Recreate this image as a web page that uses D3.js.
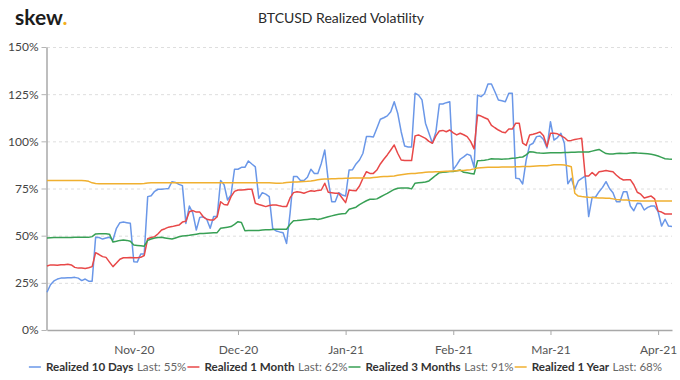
<!DOCTYPE html>
<html><head><meta charset="utf-8">
<script src="https://cdn.jsdelivr.net/npm/d3@7"></script>
<style>
body{margin:0;background:#fff;}
svg{display:block;font-family:Lato,"Open Sans",sans-serif;}
</style></head><body>
<svg id="chart" width="680" height="380"></svg>
<script>
// ---------- data (daily, starting 2020-10-07, values in %) ----------
const startDate = "2020-10-07";
const realized10d = [
20,24,26,27,27.5,27.5,27.7,27.7,27.9,27.5,
26.2,27,25.9,25.9,49.1,49,48.2,48.8,49.1,47.7,
53.9,56.9,57.2,56.9,56.6,36.2,36,40.3,40.3,70.7,
71.2,73.5,74.6,74.6,74.8,75,78.6,78.2,77.2,76.5,
56.5,65.7,62,53,59.7,60,58.7,53.9,60.2,60.1,
79.2,77,68.9,71.6,85.2,85.2,86.2,86.2,89.6,88,
86.5,69.8,72.8,72,70.7,53.9,52.5,52,51.6,45.9,
61.8,81.3,81.3,79.2,79.2,81,85.2,83,83,88.3,
95.4,79.2,68,68,72.8,71.6,71,84.8,85,88,
90.1,93.7,102.5,102.5,102.3,106.9,111.7,112.5,113.5,115.7,
121,114.9,105.1,97.5,97,97,125.5,124.5,122,109.6,
104.3,99,105,119.8,119.8,120.5,121,85,87.5,90.5,
91.8,93.2,92.5,86.2,124.5,123.7,125.2,130.4,130.4,126.3,
121.9,121.5,121,125.5,125.5,80.5,80.2,77.4,90,98,
99,102.5,102.8,101,96.5,110.4,100.7,102,104.3,99,
77.5,80.4,74.6,79,80.4,81.6,60.1,70.3,70.5,73.3,
75.6,78.6,75,72.8,68,68,73.3,73.3,65.7,63.2,
67.2,67,63.6,65,65.7,65.7,62.7,55.1,58.7,55.1,54.8];
const realized1m = [
33.9,34.5,34.5,34.3,34.6,34.6,34.8,34.5,33.2,32.8,
32.8,32.6,33,33.6,41,40,38.9,38.5,36,33.6,
35.5,37.5,38.3,38.3,38.4,38.3,38.3,38.5,39.5,48.4,
49,49.5,51,53,53.7,54.5,54.8,55.2,55.6,57.2,
57.6,62.7,63.3,62.5,62.5,60,58.7,58.3,58.3,60,
68,66.5,66.3,70.7,73.5,74.2,74.2,74.4,74.6,74.6,
67.2,66.5,66,65.4,66,66.3,66.3,65.8,65.4,65.4,
70,72.8,73.3,73,72.5,73.2,73.8,73.5,74,74.2,
77.8,73,72.8,72.5,72.5,70,67.5,74.2,74,73.8,
76.3,80.4,83.9,83,83,84.8,88,90.5,92.8,95.4,
98.1,93.7,90.1,89.8,89.8,89.8,102.9,103.4,102.5,101.6,
100,99,102.9,105.5,105.8,105.1,106,104.5,103.4,104.3,
103.5,102.5,100,96,114,113.4,112.5,111.7,108.5,107.2,
106,105,104.6,106.5,106.5,109.6,109.6,99,97.8,103.4,
103.8,104.3,105,103,97.2,104.3,104.3,104,103,102,
100.3,100.5,101,101.3,101.6,81.6,81.6,83.5,81.8,83.9,
84.2,84.5,84.2,83.9,82,80.5,79.5,79.6,79.7,77,
73,72,70,70.5,71,69.5,63,62.5,61.5,61.5,61.5];
const realized3m = [
48.8,48.9,49,49,49,49,49,49,49.1,49.1,
49.1,49.1,49.1,49.5,50.9,51,51,51,50.8,46.6,
47,47.5,47.7,47.5,47,45,44.8,44.6,44.4,47.5,
48.2,48.8,49,49.1,48.8,48.5,48.2,48.8,49.4,49.8,
50,50.2,50.5,50.8,51.1,51.2,51.3,51.4,51.5,51.6,
53.9,54.2,54.5,54.8,56,57.4,57,52.6,52.7,52.7,
52.8,52.8,53,53.1,53.2,53.3,53.4,53.4,53.4,53.4,
56,57.9,58,58.2,58.4,58.6,58.8,59,58.6,59,
59.5,60,60.5,61,61.3,61.6,61.8,64,64.5,65.1,
66.5,67.5,68.5,69.3,69.3,69.5,70.5,71.5,72.4,73.5,
74.5,75.1,75.2,75.3,75.3,74.8,77.8,78,78.2,78.4,
79,80.5,82,83.4,83.6,83.8,84,84,84.4,84.8,
83.6,83.3,83,82.7,89.7,89.8,90,90.3,90.8,90.7,
90.6,90.5,90.7,90.8,91,91.2,91.5,91.7,92.8,94.5,
94.3,94,93.8,93.7,93.8,93.9,94,94,94,94.1,
94.1,94.2,94.2,94.3,94.3,94.3,94.3,94.8,95.3,95.7,
94.5,93.5,93.3,93.3,93.5,93.7,93.5,93.6,93.8,94,
93.8,93.7,93.6,93.4,93.2,92.8,92.2,91.5,90.8,90.6,90.5];
const realized1y = [
79.2,79.2,79.2,79.2,79.2,79.2,79.2,79.2,79.2,79.2,
79.2,79.1,78.8,78,77.6,77.5,77.5,77.5,77.5,77.5,
77.5,77.5,77.5,77.5,77.5,77.5,77.5,77.5,77.6,77.9,
78.1,78,78,78,78,78,78,78,78,78,
78,78,78,78,78,78,78,78,78.1,78.1,
78.1,78.1,78.1,78.1,78.1,78.1,78.1,78.1,78.1,78.1,
78.1,78,78,78,78,77.9,77.8,77.8,77.9,78.2,
78.3,78.4,78.5,78.6,78.7,78.8,79,79.3,79.6,79.9,
80,80.1,80.2,80.2,80.3,80.3,80.4,80.4,80.5,80.5,
80.6,80.6,80.6,80.6,80.8,81,81.2,81.3,81.4,81.5,
81.6,82,82.3,82.6,82.8,82.9,83,83.2,83.4,83.6,
83.7,83.8,83.9,83.9,84,84.1,84.2,84.3,84.4,84.5,
84.6,84.8,85,85.4,85.9,86,86.1,86.2,86.2,86.3,
86.3,86.4,86.4,86.4,86.4,86.5,86.5,86.6,86.6,86.6,
86.8,86.9,87,87.1,87.1,87.3,87.6,87.6,87.6,87.5,
87.1,86.5,72.5,71,70.7,70.5,70.3,70.2,70.1,70,
69.9,69.8,69.8,69.5,69.2,69,68.9,68.9,68.6,68.5,
68.5,68.4,68.4,68.4,68.4,68.4,68.4,68.4,68.4,68.4,68.4];

const seriesNames = ["Realized 10 Days", "Realized 1 Month", "Realized 3 Months", "Realized 1 Year"];
const seriesValues = [realized10d, realized1m, realized3m, realized1y];
const seriesColors = ["#6a97e8", "#e84848", "#38a055", "#f0b030"];
const yTicks = [0, 25, 50, 75, 100, 125, 150];
const titleText = "BTCUSD Realized Volatility";

// ---------- layout ----------
const svg = d3.select("#chart");
const L = 47, R = 672, T = 47, B = 330;
const t0 = d3.utcParse("%Y-%m-%d")(startDate);
const dates = realized10d.map((_, i) => d3.utcDay.offset(t0, i));

const x = d3.scaleUtc().domain([dates[0], dates[dates.length - 1]]).range([L, R]);
const y = d3.scaleLinear().domain([0, 150]).range([B, T]);

// logo + title
const logo = svg.append("text").attr("x", 15).attr("y", 25)
  .style("font-size", "21px").style("font-weight", 700).attr("fill", "#1c1c1c");
logo.append("tspan").text("skew");
logo.append("tspan").attr("fill", "#f2b01e").text(".");

svg.append("text").attr("x", 341).attr("y", 23).attr("text-anchor", "middle")
  .style("font-size", "14px").style("font-weight", 400).attr("fill", "#2a2a2a")
  .text(titleText);

// gridlines
svg.append("g").selectAll("line").data(yTicks.filter(d => d > 0)).join("line")
  .attr("x1", L).attr("x2", R)
  .attr("y1", d => y(d) + 0.5).attr("y2", d => y(d) + 0.5)
  .attr("stroke", "#dedede").attr("stroke-width", 1).attr("stroke-dasharray", "3,3");

// y axis
const gy = svg.append("g").attr("transform", `translate(${L - 0.5},0)`)
  .call(d3.axisLeft(y).tickValues(yTicks).tickFormat(d => d + "%").tickSize(5).tickSizeOuter(0).tickPadding(3));
gy.select(".domain").attr("stroke", "#a8a8a8").attr("stroke-width", 1.5);
gy.selectAll(".tick line").attr("stroke", "#b5b5b5");
gy.selectAll(".tick text").attr("fill", "#444").style("font-size", "12px").style("font-family", "Lato, sans-serif");

// x axis
const gx = svg.append("g").attr("transform", `translate(0,${B})`)
  .call(d3.axisBottom(x).ticks(d3.utcMonth.every(1)).tickFormat(d3.utcFormat("%b-%y")).tickSize(5).tickSizeOuter(0).tickPadding(10));
gx.select(".domain").attr("stroke", "#a8a8a8").attr("stroke-width", 1.5);
gx.selectAll(".tick line").attr("stroke", "#a8a8a8");
gx.selectAll(".tick text").attr("fill", "#555").style("font-size", "12px").style("font-family", "Lato, sans-serif");

// lines
const line = d3.line().x((d, i) => x(dates[i])).y(d => y(d));
svg.append("g").selectAll("path").data(seriesValues).join("path")
  .attr("d", d => line(d))
  .attr("fill", "none")
  .attr("stroke", (d, i) => seriesColors[i])
  .attr("stroke-width", 1.5)
  .attr("stroke-linejoin", "round");

// legend
const lg = svg.append("g");
let cx = 0;
const legY = 371;
const fs = "11.6px";
seriesNames.forEach((name, i) => {
  const vals = seriesValues[i];
  const last = Math.round(vals[vals.length - 1]);
  lg.append("line").attr("x1", cx).attr("x2", cx + 12).attr("y1", legY - 4).attr("y2", legY - 4)
    .attr("stroke", seriesColors[i]).attr("stroke-width", 1.5);
  cx += 17;
  const t1 = lg.append("text").attr("x", cx).attr("y", legY)
    .style("font-size", fs).style("font-weight", 700).attr("fill", "#333").text(name);
  cx += t1.node().getComputedTextLength() + 3.5;
  const t2 = lg.append("text").attr("x", cx).attr("y", legY)
    .style("font-size", fs).attr("fill", "#666").text("Last: " + last + "%");
  cx += t2.node().getComputedTextLength() + 1;
});
const lgW = cx - 1;
lg.attr("transform", `translate(${(25 + 666) / 2 - lgW / 2},0)`);
</script>
</body></html>
